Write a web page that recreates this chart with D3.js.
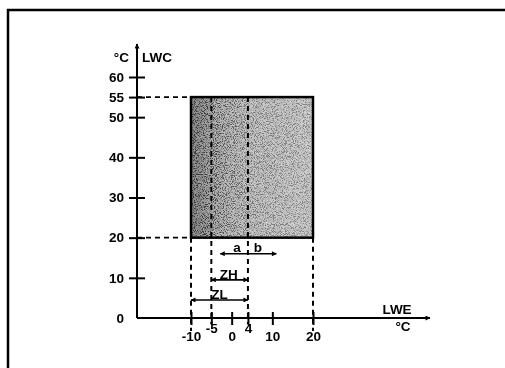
<!DOCTYPE html>
<html>
<head>
<meta charset="utf-8">
<script src="https://cdn.jsdelivr.net/npm/d3@7"></script>
<style>
  html, body { margin: 0; padding: 0; background: #fff; }
  svg { display: block; font-family: "Liberation Sans", Arial, sans-serif; font-weight: bold; }
</style>
</head>
<body>
<svg id="chart" width="505" height="368"></svg>
<script>
// LWC (leaving water condenser) ticks, °C
const yTicks = [0, 10, 20, 30, 40, 50, 55, 60];
// LWE (leaving water evaporator) ticks, °C
const xTicks = [-10, -5, 0, 4, 10, 20];
const xRaised = [-5, 4];
// operating envelope
const envelopeLWE = [-10, 20];
const envelopeLWC = [20, 55];
// vertical dashed guides inside / below the envelope
const guideLWE = [-10, -5, 4, 20];
// ranges drawn as arrows below the envelope
const ranges = [
  { label: "ZH", from: -5, to: 4, lwc: 9.5, labelAt: -0.7 },
  { label: "ZL", from: -10, to: 4, lwc: 4.5, labelAt: -3 }
];
const abArrow = { from: -2.8, to: 11, lwc: 16, split: 4 };

const fs = 13.5;
const svg = d3.select("#chart");

const x = d3.scaleLinear().domain([-10, 20]).range([191, 313]);
const y = d3.scaleLinear().domain([0, 60]).range([318, 77]);

// frame (only top and left edge are visible)
svg.append("path")
  .attr("d", "M8,368 L8,10 L505,10")
  .attr("fill", "none")
  .attr("stroke", "#000")
  .attr("stroke-width", 2.5);

const defs = svg.append("defs");

const grad = defs.append("linearGradient").attr("id", "shade");
grad.append("stop").attr("offset", "0%").attr("stop-color", "#626262");
grad.append("stop").attr("offset", "28%").attr("stop-color", "#8a8a8a");
grad.append("stop").attr("offset", "50%").attr("stop-color", "#a0a0a0");
grad.append("stop").attr("offset", "100%").attr("stop-color", "#adadad");

const noise = defs.append("filter").attr("id", "grain")
  .attr("x", 0).attr("y", 0).attr("width", 1).attr("height", 1);
noise.append("feTurbulence")
  .attr("type", "fractalNoise")
  .attr("baseFrequency", 1.1)
  .attr("numOctaves", 2)
  .attr("seed", 7)
  .attr("result", "t");
noise.append("feColorMatrix")
  .attr("in", "t")
  .attr("type", "matrix")
  .attr("values", "4 0 0 0 -1.5  4 0 0 0 -1.5  4 0 0 0 -1.5  0 0 0 0 1");

// envelope
const rx = x(envelopeLWE[0]), rw = x(envelopeLWE[1]) - x(envelopeLWE[0]);
const ry = y(envelopeLWC[1]), rh = y(envelopeLWC[0]) - y(envelopeLWC[1]);
svg.append("rect")
  .attr("x", rx).attr("y", ry).attr("width", rw).attr("height", rh)
  .attr("fill", "url(#shade)");
svg.append("rect")
  .attr("x", rx).attr("y", ry).attr("width", rw).attr("height", rh)
  .attr("fill", "#000")
  .attr("opacity", 0.45)
  .style("mix-blend-mode", "overlay")
  .attr("filter", "url(#grain)");
svg.append("rect")
  .attr("x", rx).attr("y", ry).attr("width", rw).attr("height", rh)
  .attr("fill", "none")
  .attr("stroke", "#000")
  .attr("stroke-width", 2.5);

const dash = "5,4";

// horizontal guides from axis to envelope
envelopeLWC.forEach(v => {
  svg.append("line")
    .attr("x1", 137).attr("x2", rx)
    .attr("y1", y(v)).attr("y2", y(v))
    .attr("stroke", "#000").attr("stroke-width", 1.8)
    .attr("stroke-dasharray", dash);
});

// vertical guides
guideLWE.forEach(v => {
  const inside = v > envelopeLWE[0] && v < envelopeLWE[1];
  svg.append("line")
    .attr("x1", x(v)).attr("x2", x(v))
    .attr("y1", inside ? y(envelopeLWC[1]) : y(envelopeLWC[0]))
    .attr("y2", inside ? y(0) + 6 : y(0) + 13)
    .attr("stroke", "#000").attr("stroke-width", 2)
    .attr("stroke-dasharray", dash);
});

// arrow heads
const head = defs.append("marker").attr("id", "head")
  .attr("viewBox", "0 0 10 10").attr("refX", 9).attr("refY", 5)
  .attr("markerWidth", 7).attr("markerHeight", 5)
  .attr("markerUnits", "userSpaceOnUse")
  .attr("orient", "auto-start-reverse");
head.append("path").attr("d", "M0,0 L10,5 L0,10 Z").attr("fill", "#000");

ranges.forEach(r => {
  svg.append("line")
    .attr("x1", x(r.from)).attr("x2", x(r.to))
    .attr("y1", y(r.lwc)).attr("y2", y(r.lwc))
    .attr("stroke", "#000").attr("stroke-width", 1.6)
    .attr("marker-start", "url(#head)")
    .attr("marker-end", "url(#head)");
  svg.append("text")
    .attr("x", x(r.labelAt)).attr("y", y(r.lwc) - 1)
    .attr("text-anchor", "middle")
    .attr("font-size", fs)
    .text(r.label);
});

svg.append("line")
  .attr("x1", x(abArrow.from)).attr("x2", x(abArrow.to))
  .attr("y1", y(abArrow.lwc)).attr("y2", y(abArrow.lwc))
  .attr("stroke", "#000").attr("stroke-width", 1.6)
  .attr("marker-start", "url(#head)")
  .attr("marker-end", "url(#head)");
svg.append("text")
  .attr("x", x(abArrow.split) - 11).attr("y", y(abArrow.lwc) - 2)
  .attr("text-anchor", "middle").attr("font-size", fs).text("a");
svg.append("text")
  .attr("x", x(abArrow.split) + 10).attr("y", y(abArrow.lwc) - 2)
  .attr("text-anchor", "middle").attr("font-size", fs).text("b");

// y axis
const x0 = 137;
svg.append("line")
  .attr("x1", x0).attr("x2", x0)
  .attr("y1", y(0)).attr("y2", 44)
  .attr("stroke", "#000").attr("stroke-width", 2)
  .attr("marker-end", "url(#head)");

const yAxis = svg.append("g")
  .attr("transform", `translate(${x0},0)`)
  .call(d3.axisLeft(y).tickValues(yTicks.filter(d => d > 0)).tickSize(8).tickPadding(5));
yAxis.select(".domain").remove();
yAxis.selectAll(".tick line")
  .attr("x2", 8).attr("x1", -8)
  .attr("stroke", "#000").attr("stroke-width", 2);
yAxis.selectAll(".tick text")
  .attr("x", -13)
  .attr("font-size", fs).attr("font-weight", "bold")
  .attr("font-family", "Liberation Sans, Arial, sans-serif")
  .attr("fill", "#000");
svg.append("text")
  .attr("x", 124).attr("y", y(0) + 5)
  .attr("text-anchor", "end").attr("font-size", fs).text("0");

svg.append("text").attr("x", 129).attr("y", 62)
  .attr("text-anchor", "end").attr("font-size", fs).text("°C");
svg.append("text").attr("x", 142).attr("y", 62)
  .attr("font-size", fs).text("LWC");

// x axis
svg.append("line")
  .attr("x1", x0).attr("x2", 430)
  .attr("y1", y(0)).attr("y2", y(0))
  .attr("stroke", "#000").attr("stroke-width", 2)
  .attr("marker-end", "url(#head)");

const xAxis = svg.append("g")
  .attr("transform", `translate(0,${y(0)})`)
  .call(d3.axisBottom(x).tickValues(xTicks).tickSize(6).tickPadding(4));
xAxis.select(".domain").remove();
xAxis.selectAll(".tick line")
  .attr("y1", -6).attr("y2", 7)
  .attr("stroke", "#000").attr("stroke-width", 2);
xAxis.selectAll(".tick text")
  .attr("y", d => xRaised.includes(d) ? 5 : 13)
  .attr("font-size", fs).attr("font-weight", "bold")
  .attr("font-family", "Liberation Sans, Arial, sans-serif")
  .attr("fill", "#000")
  .text(d => d);

svg.append("text").attr("x", 397).attr("y", 314)
  .attr("text-anchor", "middle").attr("font-size", fs).text("LWE");
svg.append("text").attr("x", 403).attr("y", 331)
  .attr("text-anchor", "middle").attr("font-size", fs).text("°C");
</script>
</body>
</html>
